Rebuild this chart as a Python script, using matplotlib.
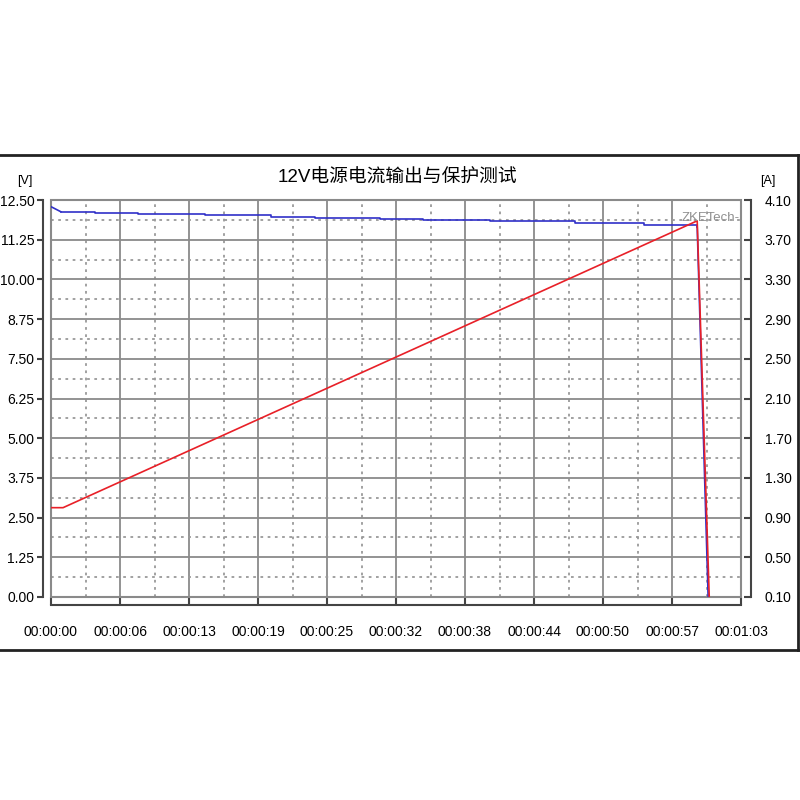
import numpy as np
import matplotlib.pyplot as plt
from matplotlib.patches import Rectangle
from matplotlib.lines import Line2D

plt.rcParams['font.family'] = ['Liberation Sans', 'Noto Sans CJK SC', 'DejaVu Sans']

title = '12V电源电流输出与保护测试'

# voltage trace (left axis, V)
volt_time = [0.0, 0.9, 4.0, 7.9, 14.1, 20.1, 24.1, 30.0, 34.0, 40.1, 47.8, 54.1, 59.0, 60.0]
volt_vals = [12.29, 12.13, 12.10, 12.07, 12.03, 11.97, 11.94, 11.90, 11.87, 11.84, 11.77, 11.72, 11.66, 0.0]

# current trace (right axis, A)
curr_time = [0.0, 1.1, 59.0, 60.1]
curr_vals = [1.00, 1.00, 3.89, 0.10]

x_ticks = [0, 6.3, 12.6, 18.9, 25.2, 31.5, 37.8, 44.1, 50.4, 56.7, 63.0]
x_labels = ['00:00:00', '00:00:06', '00:00:13', '00:00:19', '00:00:25', '00:00:32',
            '00:00:38', '00:00:44', '00:00:50', '00:00:57', '00:01:03']
v_ticks = [0.0, 1.25, 2.5, 3.75, 5.0, 6.25, 7.5, 8.75, 10.0, 11.25, 12.5]
a_ticks = [0.10, 0.50, 0.90, 1.30, 1.70, 2.10, 2.50, 2.90, 3.30, 3.70, 4.10]

fig = plt.figure(figsize=(8, 8), dpi=100)
W, H = 800, 800
ax = fig.add_axes([51 / W, (H - 597) / H, 690 / W, 397 / H])
ax2 = ax.twinx()

ax.set_xlim(0, 63)
ax.set_ylim(0, 12.5)
ax2.set_ylim(0.1, 4.1)

# grid: solid major, dotted minor
ax.set_xticks(x_ticks)
ax.set_xticklabels(x_labels, fontsize=9)
ax.set_xticks([(a + b) / 2 for a, b in zip(x_ticks[:-1], x_ticks[1:])], minor=True)
ax.set_yticks(v_ticks)
ax.set_yticklabels(['%.2f' % v for v in v_ticks], fontsize=8)
ax.set_yticks([(a + b) / 2 for a, b in zip(v_ticks[:-1], v_ticks[1:])], minor=True)
ax.grid(which='major', color='#8a8a8a', lw=1.3)
ax.grid(which='minor', color='#9a9a9a', lw=1.3, ls=(0, (1.5, 2.5)))
ax.set_axisbelow(True)

ax2.set_yticks(a_ticks)
ax2.set_yticklabels(['%.2f' % v for v in a_ticks], fontsize=9)

for s in ['top', 'right']:
    ax.spines[s].set_visible(False)
for s in ['top', 'left', 'bottom']:
    ax2.spines[s].set_visible(False)
ax.spines['left'].set_position(('outward', 6))
ax.spines['bottom'].set_position(('outward', 6))
ax2.spines['right'].set_position(('outward', 7))
for sp in [ax.spines['left'], ax.spines['bottom'], ax2.spines['right']]:
    sp.set_color('#444444')
    sp.set_linewidth(1.5)

ax.tick_params(axis='y', which='major', direction='out', length=4, width=1.5,
               color='#444444', pad=2)
ax.tick_params(axis='x', which='major', direction='in', length=6, width=1.5,
               color='#444444', pad=14)
ax.tick_params(which='minor', length=0)
ax2.tick_params(axis='y', direction='in', length=5, width=1.5, color='#444444', pad=10)

# plot frame
ax.add_patch(Rectangle((0, 0), 1, 1, transform=ax.transAxes, fill=False,
                       ec='#8a8a8a', lw=1.5, zorder=1, clip_on=False))

# voltage: first slope, steps, final drop
ax.plot(volt_time[:2], volt_vals[:2], color='#3030c8', lw=1.2, zorder=3)
ax.step(volt_time[1:-1], volt_vals[1:-1], where='post', color='#3030c8', lw=1.2, zorder=3)
ax.plot(volt_time[-2:], volt_vals[-2:], color='#3030c8', lw=1.2, zorder=3)

# current (ax2 sits above ax, so red covers the blue drop)
ax2.plot(curr_time, curr_vals, color='#e82028', lw=1.2, zorder=2)

ax2.text(0.998, 0.955, 'ZKETech-', transform=ax2.transAxes, ha='right', va='center',
         fontsize=9.5, color='#909090', zorder=4)

fig.text(397 / W, 1 - 178 / H, title, ha='center', va='center', fontsize=13.5,
         family=['Liberation Sans', 'Noto Sans CJK SC'])
fig.text(25 / W, 1 - 181 / H, '[V]', ha='center', va='center', fontsize=9)
fig.text(768 / W, 1 - 181 / H, '[A]', ha='center', va='center', fontsize=9)

# outer border: top, bottom and right edges only
for xs, ys in [([0, 798], [155, 155]), ([0, 798], [650, 650]), ([798, 798], [155, 650])]:
    fig.add_artist(Line2D([x / W for x in xs], [1 - y / H for y in ys],
                          transform=fig.transFigure, color='#222222', lw=2))

fig.savefig('out.png', dpi=100)
